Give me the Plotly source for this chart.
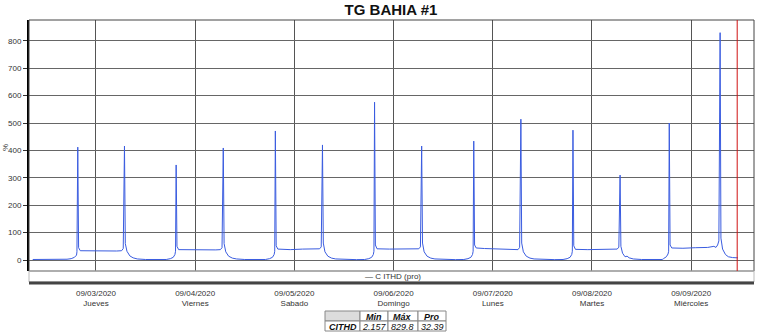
import pandas as pd
import plotly.graph_objects as go

# ---- data (hours relative to 2020-09-03 00:00, values in %) ----
start = pd.Timestamp("2020-09-03 00:00")
hours = [
    -15.3, -12, -9, -7, -6, -5.2, -4.7, -4.6, -4.4, -4.2, -3.8, -1, 2, 5, 6.2, 6.6, 6.9, 7.1, 7.5, 8.2, 9, 10, 12, 15, 17,
    18, 18.7, 19.1, 19.25, 19.4, 19.6, 20, 23, 26, 29, 30.1, 30.5, 30.8, 31.0, 31.4, 32.1, 33, 34, 36, 39, 41,
    42, 42.7, 43.1, 43.25, 43.4, 43.6, 44, 47, 50, 53, 54.1, 54.5, 54.8, 55.0, 55.4, 56.1, 57, 58, 60, 63, 65,
    66, 66.7, 67.1, 67.25, 67.4, 67.6, 68, 71, 74, 77, 78.1, 78.5, 78.8, 79.0, 79.4, 80.1, 81, 82, 84, 87, 89,
    90, 90.7, 91.1, 91.25, 91.4, 91.6, 92, 94, 97, 100, 102.1, 102.5, 102.8, 103.0, 103.4, 104.1, 105, 106, 108, 111, 113,
    114, 114.7, 115.1, 115.25, 115.4, 115.6, 116, 119, 122, 125, 126.1, 126.5, 126.8, 127.0, 127.4, 128, 128.5, 129, 130, 132, 135, 137,
    137.3, 138, 138.4, 138.55, 138.7, 138.9, 139.3, 142, 145, 148, 149.5, 150.0, 150.4, 150.7, 151.0, 151.2, 151.6, 152.3, 153, 154, 155.3,
]
values = [
    2, 2, 2.5, 3, 5, 10, 18, 30, 412, 45, 34, 33, 32, 33, 34, 42, 416, 60, 32, 15, 8, 4, 2, 1.5, 2,
    5, 10, 20, 32, 347, 50, 38, 37, 36, 37, 38, 45, 409, 60, 30, 14, 7, 4, 2, 1.5, 2,
    5, 10, 20, 32, 471, 52, 40, 38, 40, 39, 41, 48, 420, 62, 30, 14, 7, 4, 2, 1.5, 2,
    5, 10, 20, 32, 576, 55, 41, 40, 41, 40, 41, 48, 416, 62, 30, 14, 7, 4, 2, 1.5, 2,
    5, 10, 20, 32, 434, 55, 44, 42, 40, 37, 38, 46, 514, 62, 30, 14, 7, 4, 2, 1.5, 2,
    5, 10, 20, 32, 474, 52, 39, 38, 38, 39, 40, 47, 310, 50, 25, 12, 14, 8, 4, 2, 1.5, 2,
    5, 12, 22, 32, 500, 55, 44, 43, 45, 46, 50, 46, 55, 70, 829.8, 80, 40, 20, 12, 9, 8,
]
series_name = "C ITHD (pro)"
tick_dates = ["2020-09-03", "2020-09-04", "2020-09-05", "2020-09-06", "2020-09-07", "2020-09-08", "2020-09-09"]
tick_days = ["Jueves", "Viernes", "Sabado", "Domingo", "Lunes", "Martes", "Miércoles"]
y_ticks = [0, 100, 200, 300, 400, 500, 600, 700, 800]
marker_time = "2020-09-09 11:08"
table_header = ["", "Min", "Máx", "Pro"]
table_row = ["CITHD", "2.157", "829.8", "32.39"]

times = [start + pd.Timedelta(hours=h) for h in hours]

W, H = 763, 334
px = lambda x: x / W
py = lambda y: (H - y) / H
xdom = [px(29), px(754)]
ydom = [py(271), py(20)]
FONT = "Arial, Liberation Sans, sans-serif"

fig = go.Figure()
fig.add_trace(go.Scatter(x=times, y=values, mode="lines", name=series_name,
                         line=dict(color="#3a5ce0", width=1), showlegend=False))

fig.update_layout(
    width=W, height=H, margin=dict(l=0, r=0, t=0, b=0),
    paper_bgcolor="white", plot_bgcolor="white",
    font=dict(family=FONT, size=8, color="#333"),
    title=dict(text="<b>TG BAHIA #1</b>", x=px(391), xanchor="center",
               y=py(10), yanchor="middle", font=dict(family=FONT, size=15, color="#111")),
    xaxis=dict(domain=xdom, type="date",
               range=["2020-09-02 07:48", "2020-09-09 15:12"],
               tickvals=tick_dates,
               ticktext=["%s<br>%s" % (pd.Timestamp(d).strftime("%m/%d/%Y"), n) for d, n in zip(tick_dates, tick_days)],
               showgrid=True, gridcolor="#555", gridwidth=1,
               ticks="", ticklabelstandoff=16, showline=False, zeroline=False,
               tickfont=dict(size=8, color="#333")),
    yaxis=dict(domain=ydom, range=[-40, 876], tickvals=y_ticks,
               showgrid=True, gridcolor="#666", gridwidth=1, zeroline=False,
               ticks="outside", ticklen=4, tickcolor="#333",
               showline=True, linecolor="black", linewidth=2,
               tickfont=dict(size=8, color="#333")),
)

# plot border
fig.add_shape(type="rect", xref="paper", yref="paper", x0=xdom[0], x1=xdom[1], y0=ydom[0], y1=ydom[1],
              line=dict(color="#444", width=1))
# legend strip
fig.add_shape(type="rect", xref="paper", yref="paper", x0=xdom[0], x1=xdom[1], y0=py(282), y1=py(271),
              line=dict(color="#bbb", width=1))
# thick x baseline
fig.add_shape(type="line", xref="paper", yref="paper", x0=xdom[0], x1=xdom[1], y0=py(283), y1=py(283),
              line=dict(color="#444", width=3))
# red marker line
fig.add_shape(type="line", xref="x", yref="paper", x0=marker_time, x1=marker_time, y0=ydom[0], y1=ydom[1],
              line=dict(color="#d01010", width=1))

fig.add_annotation(text="— " + series_name, xref="paper", yref="paper", x=px(393), y=py(276.5),
                   xanchor="center", yanchor="middle", showarrow=False, font=dict(size=8, color="#333"))
fig.add_annotation(text="%", xref="paper", yref="paper", x=px(5), y=py(148), textangle=-90,
                   xanchor="center", yanchor="middle", showarrow=False, font=dict(size=8, color="#333"))

# summary table drawn with shapes + text
col_edges = [325, 360, 388, 418, 446]
row_edges = [311, 321, 331]
for r, row in enumerate([table_header, table_row]):
    for c, txt in enumerate(row):
        x0, x1 = col_edges[c], col_edges[c + 1]
        y0, y1 = row_edges[r], row_edges[r + 1]
        fill = "#dcdcdc" if (r == 0 and c == 0) else "white"
        fig.add_shape(type="rect", xref="paper", yref="paper", x0=px(x0), x1=px(x1), y0=py(y1), y1=py(y0),
                      line=dict(color="#888", width=1), fillcolor=fill, layer="above")
        if txt:
            bold = (r == 0) or (c == 0)
            label = "<i>%s</i>" % txt
            if bold:
                label = "<b>%s</b>" % label
            fig.add_annotation(text=label, xref="paper", yref="paper", x=px((x0 + x1) / 2), y=py((y0 + y1) / 2 + 0.5),
                               xanchor="center", yanchor="middle", showarrow=False,
                               font=dict(size=9, color="#111"))

fig.write_html("out.html")
